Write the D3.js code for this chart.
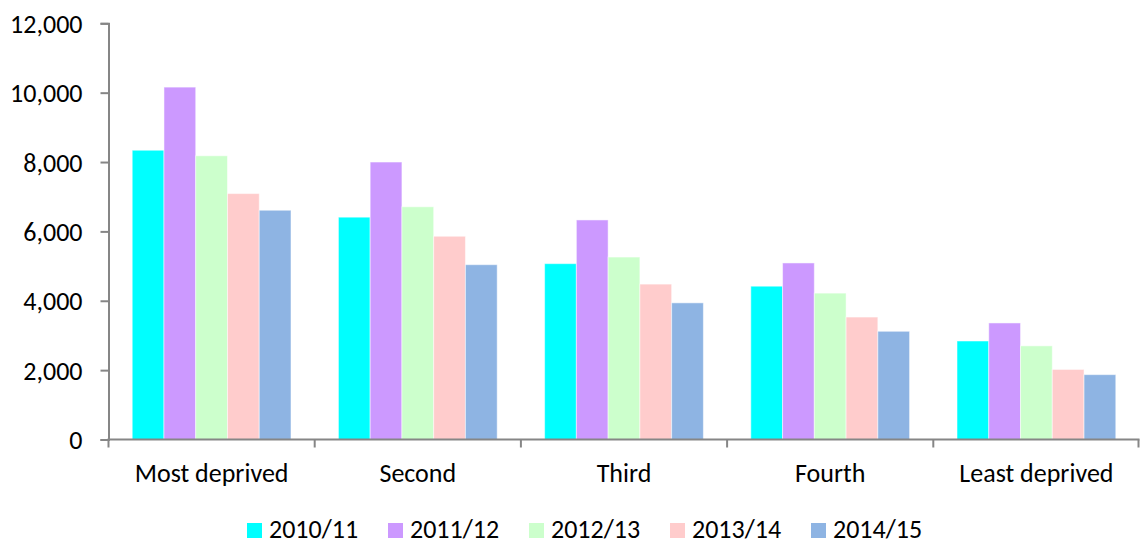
<!DOCTYPE html>
<html>
<head>
<meta charset="utf-8">
<script src="https://cdn.jsdelivr.net/npm/d3@7"></script>
<style>
  body { margin: 0; background: #fff; }
  svg text { font-family: Calibri, Carlito, "Open Sans", sans-serif; fill: #000; }
</style>
</head>
<body>
<svg id="chart" width="1140" height="542"></svg>
<script>
var categories = ["Most deprived", "Second", "Third", "Fourth", "Least deprived"];
var years = ["2010/11", "2011/12", "2012/13", "2013/14", "2014/15"];
var colors = ["#00FFFF", "#CC99FF", "#CCFFCC", "#FFCCCC", "#8EB4E3"];
// values per year, in category order
var v2010 = [8340, 6410, 5070, 4420, 2840];
var v2011 = [10160, 8000, 6330, 5090, 3360];
var v2012 = [8180, 6710, 5260, 4220, 2700];
var v2013 = [7090, 5860, 4480, 3530, 2020];
var v2014 = [6610, 5040, 3940, 3120, 1870];
var yTicks = [0, 2000, 4000, 6000, 8000, 10000, 12000];

var series = [v2010, v2011, v2012, v2013, v2014];

var svg = d3.select("#chart");
var plotLeft = 108.5, plotRight = 1139.5, plotTop = 23.3, plotBottom = 439.5;
var fontSize = "26px";

var x = d3.scaleBand()
  .domain(categories)
  .range([plotLeft, plotRight])
  .paddingInner(0.23)
  .paddingOuter(0.115);

var xi = d3.scaleBand()
  .domain(years)
  .range([0, x.bandwidth()]);

var y = d3.scaleLinear()
  .domain([0, 12000])
  .range([plotBottom, plotTop]);

// bars
var groups = svg.append("g").selectAll("g")
  .data(categories)
  .join("g")
  .attr("transform", function(d) { return "translate(" + x(d) + ",0)"; });

groups.selectAll("rect")
  .data(function(d, i) {
    return years.map(function(yr, j) { return { year: yr, value: series[j][i], j: j }; });
  })
  .join("rect")
  .attr("x", function(d) { return xi(d.year); })
  .attr("y", function(d) { return y(d.value); })
  .attr("width", xi.bandwidth())
  .attr("height", function(d) { return plotBottom - y(d.value); })
  .attr("fill", function(d) { return colors[d.j]; })
  .attr("stroke", "#fff")
  .attr("stroke-opacity", 0.5)
  .attr("stroke-width", 1);

// y axis
var yAxis = d3.axisLeft(y)
  .tickValues(yTicks)
  .tickSize(8)
  .tickPadding(18)
  .tickFormat(d3.format(","));

var yg = svg.append("g")
  .attr("transform", "translate(" + plotLeft + ",0)")
  .call(yAxis);
yg.select(".domain").attr("stroke", "#868686").attr("stroke-width", 2);
yg.selectAll(".tick line").attr("stroke", "#868686").attr("stroke-width", 2);
yg.selectAll(".tick text").style("font-size", fontSize).attr("dy", "0.35em");

// x axis (ticks at category boundaries)
var xg = svg.append("g")
  .attr("transform", "translate(0," + plotBottom + ")");
xg.append("line")
  .attr("x1", plotLeft - 1).attr("x2", plotRight)
  .attr("stroke", "#868686").attr("stroke-width", 2);
var bounds = categories.map(function(c) { return x(c) - x.step() * x.paddingInner() / 2; });
bounds.push(plotRight - 1);
xg.selectAll(".xtick")
  .data(bounds)
  .join("line")
  .attr("class", "xtick")
  .attr("x1", function(d) { return d; })
  .attr("x2", function(d) { return d; })
  .attr("y1", 0).attr("y2", 8)
  .attr("stroke", "#868686").attr("stroke-width", 2);
xg.selectAll(".xlabel")
  .data(categories)
  .join("text")
  .attr("class", "xlabel")
  .attr("x", function(d) { return x(d) + x.bandwidth() / 2; })
  .attr("y", 42)
  .attr("text-anchor", "middle")
  .style("font-size", fontSize)
  .text(function(d) { return d; });

// legend
var legend = svg.append("g").attr("transform", "translate(247,523)");
var item = legend.selectAll("g")
  .data(years)
  .join("g")
  .attr("transform", function(d, i) { return "translate(" + (i * 141) + ",0)"; });
item.append("rect")
  .attr("width", 15).attr("height", 15)
  .attr("fill", function(d, i) { return colors[i]; });
item.append("text")
  .attr("x", 22).attr("y", 14.5)
  .style("font-size", fontSize)
  .text(function(d) { return d; });
</script>
</body>
</html>
